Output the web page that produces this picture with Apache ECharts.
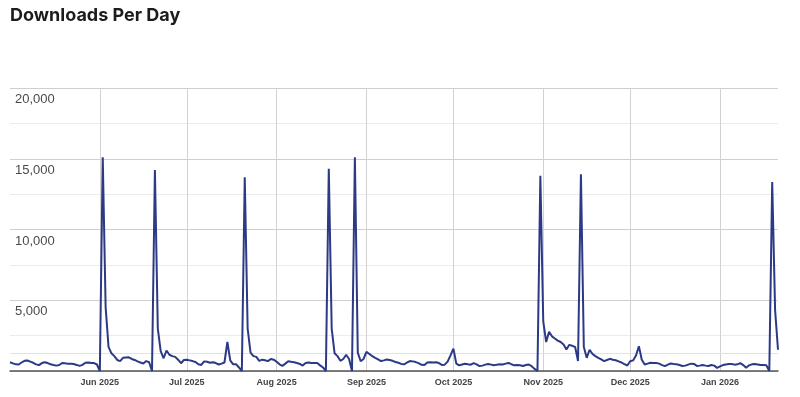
<!DOCTYPE html>
<html>
<head>
<meta charset="utf-8">
<script src="https://cdn.jsdelivr.net/npm/echarts@6/dist/echarts.min.js"></script>
<style>
html,body{margin:0;padding:0;background:#fff;}
#chart{width:800px;height:397px;}
</style>
</head>
<body>
<div id="chart"></div>
<script>
// Daily downloads, 1 May 2025 .. 21 Jan 2026
const startDate = '2025-05-01';
const may = [620,540,470,460,600,720,740,660,580,470,420,560,620,560,480,420,380,420,570,540,520,510,490,430,360,430,580,600,570,560,460];
const jun = [0,15100,4500,1700,1250,1050,780,700,930,950,970,850,780,680,600,530,700,620,0,14200,3000,1400,900,1450,1150,1050,1000,800,550,780];
const jul = [800,750,700,640,480,430,680,650,580,620,560,460,520,600,2050,750,470,480,250,0,13700,3000,1300,1050,1000,720,800,760,700,850,800];
const aug = [650,470,360,520,690,650,620,560,500,380,560,600,560,570,560,400,250,0,14300,3000,1250,1050,720,850,1150,850,0,15100,1300,690,850];
const sep = [1350,1200,1050,930,820,700,750,810,780,720,640,580,500,470,600,700,680,630,560,440,420,600,610,600,620,560,430,450,660,1100];
const oct = [1580,520,400,460,510,470,450,560,470,350,380,450,500,450,400,450,470,460,520,570,480,400,430,400,350,420,460,340,150,0,13800];
const nov = [3500,2050,2780,2450,2300,2150,2050,1870,1520,1850,1780,1700,700,13900,1700,930,1500,1200,1050,930,820,700,780,860,800,760,680,600,480,390];
const dec = [690,750,1100,1750,800,460,520,580,570,560,520,420,340,450,530,500,480,420,350,380,450,520,500,360,380,430,380,350,420,380,220];
const jan = [330,420,460,490,500,450,470,560,420,230,400,470,500,460,420,420,400,0,13350,4300,1500];
const referenceLine = [1250];
const yTicks = [0, 5000, 10000, 15000, 20000];
const monthNames = ['Jan','Feb','Mar','Apr','May','Jun','Jul','Aug','Sep','Oct','Nov','Dec'];

const values = [].concat(may, jun, jul, aug, sep, oct, nov, dec, jan);
const dates = [];
{
  const d0 = new Date(startDate + 'T00:00:00Z');
  for (let i = 0; i < values.length; i++) {
    const d = new Date(d0.getTime() + i * 86400000);
    dates.push(d.toISOString().slice(0, 10));
  }
}
const isMonthStart = (idx, val) => idx > 0 && String(val).slice(8, 10) === '01';

const chart = echarts.init(document.getElementById('chart'), null, {renderer: 'canvas'});
chart.setOption({
  animation: false,
  backgroundColor: '#fff',
  title: {
    text: 'Downloads Per Day',
    left: 10,
    top: 7,
    padding: 0,
    textStyle: {fontFamily: 'Inter', fontWeight: 700, fontSize: 18, color: '#1c1c1c'}
  },
  grid: {left: 10, right: 22, top: 88, bottom: 26, containLabel: false, outerBoundsMode: 'none'},
  xAxis: {
    type: 'category',
    data: dates,
    boundaryGap: false,
    axisLine: {show: true, lineStyle: {color: '#555', width: 1.5}},
    axisTick: {show: false},
    axisLabel: {
      interval: isMonthStart,
      margin: 7,
      fontFamily: 'Liberation Sans',
      fontSize: 9,
      fontWeight: 'bold',
      color: '#444',
      formatter: v => monthNames[parseInt(v.slice(5, 7), 10) - 1] + ' ' + v.slice(0, 4)
    },
    splitLine: {show: true, interval: isMonthStart, lineStyle: {color: '#d2d2d2', width: 1}}
  },
  yAxis: {
    type: 'value',
    min: yTicks[0],
    max: yTicks[yTicks.length - 1],
    interval: yTicks[1] - yTicks[0],
    axisLine: {show: false},
    axisTick: {show: false},
    axisLabel: {
      inside: true,
      showMinLabel: false,
      margin: 5,
      verticalAlign: 'top',
      padding: [5, 0, 0, 0],
      fontFamily: 'Liberation Sans',
      fontSize: 13,
      color: '#4a4a4a',
      formatter: v => v.toLocaleString('en-US')
    },
    splitLine: {show: true, lineStyle: {color: '#cfcfcf', width: 1}},
    minorTick: {show: false, splitNumber: 2},
    minorSplitLine: {show: true, lineStyle: {color: '#ebebeb', width: 1}}
  },
  series: [{
    type: 'line',
    data: values,
    symbol: 'none',
    smooth: false,
    lineStyle: {color: '#2c3a86', width: 2},
    z: 3,
    markLine: {
      silent: true,
      symbol: 'none',
      label: {show: false},
      lineStyle: {color: '#f7e3a6', type: 'solid', width: 1},
      data: [{yAxis: referenceLine[0]}],
      z: 2
    }
  }]
});
</script>
</body>
</html>
